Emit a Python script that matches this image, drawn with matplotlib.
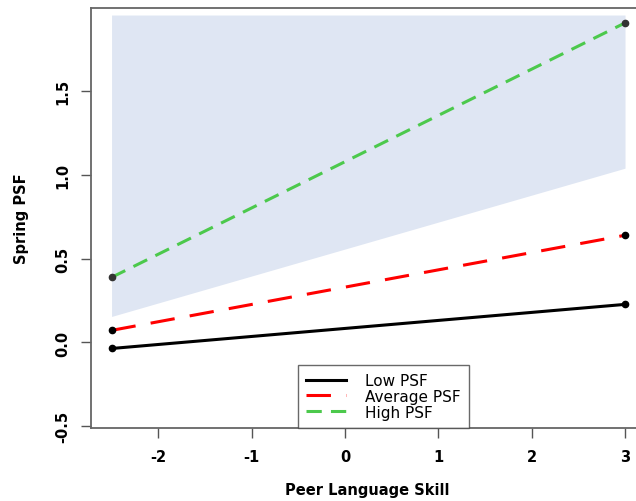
import numpy as np
import matplotlib
matplotlib.use('Agg')
import matplotlib.pyplot as plt

plt.rcParams['font.family'] = ['DejaVu Sans']

# 数据
x_ends = [-2.5, 3.0]
low_psf = [-0.036, 0.227]
avg_psf = [0.072, 0.639]
high_psf = [0.388, 1.905]
band_upper = [1.952, 1.952]
band_lower = [0.155, 1.039]

xticks = [-2, -1, 0, 1, 2, 3]
yticks = [-0.5, 0.0, 0.5, 1.0, 1.5]

fig = plt.figure(figsize=(6.36, 5.02), dpi=100)
ax = fig.add_axes([0.1431, 0.1454, 0.869, 0.8367])

# 置信带
ax.fill_between(x_ends, band_lower, band_upper, color='#dfe6f3', linewidth=0, zorder=1)

ax.plot(x_ends, low_psf, '-', color='black', lw=2.2, label='Low PSF', zorder=3)
ax.plot(x_ends, avg_psf, color='red', lw=2.2, dashes=(8, 5), label='Average PSF', zorder=3)
ax.plot(x_ends, high_psf, color='#4cc94c', lw=2.2, dashes=(5, 3), label='High PSF', zorder=3)

for ys, c in [(low_psf, 'black'), (avg_psf, 'black'), (high_psf, '#333333')]:
    ax.plot(x_ends, ys, 'o', color=c, ms=4.5, zorder=4)

ax.set_xlim(-2.72, 3.2)
ax.set_ylim(-0.51, 1.994)
ax.set_xticks(xticks)
ax.set_xticklabels([str(t) for t in xticks], fontweight='bold', fontsize=10.5)
ax.set_yticks(yticks)
ax.set_yticklabels([f'{t:.1f}' for t in yticks], fontweight='bold', fontsize=10.5,
                   rotation=90, va='center')
ax.tick_params(direction='out', length=7, width=1, color='#555555', pad=8)

for side in ['left', 'bottom', 'top']:
    ax.spines[side].set_color('#666666')
    ax.spines[side].set_linewidth(1.3)
ax.spines['right'].set_visible(False)

ax.set_xlabel('Peer Language Skill', fontweight='bold', fontsize=10.5, labelpad=13)
ax.set_ylabel('Spring PSF', fontweight='bold', fontsize=10.5, labelpad=19)

leg = ax.legend(loc='lower left', bbox_to_anchor=(0.3746, 0.0), borderaxespad=0,
                fontsize=11, frameon=True, fancybox=False, handlelength=2.6,
                handletextpad=1.2, labelspacing=0.05, borderpad=0.55)
leg.get_frame().set_edgecolor('#444444')
leg.get_frame().set_linewidth(1.0)
leg.set_zorder(5)

plt.savefig('out.png', dpi=100)
plt.close()
